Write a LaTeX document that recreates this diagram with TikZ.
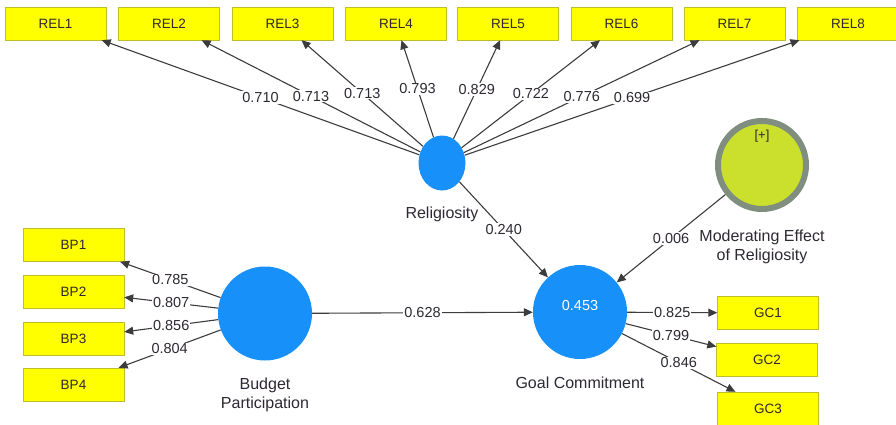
\documentclass[tikz,border=0pt]{standalone}
\usepackage{fontspec}
\setmainfont{Liberation Sans}
\usetikzlibrary{arrows.meta,shapes.geometric}
\definecolor{latblue}{RGB}{24,144,250}
\definecolor{indyellow}{RGB}{255,255,0}
\definecolor{indedge}{RGB}{190,190,40}
\definecolor{modfill}{RGB}{202,224,44}
\definecolor{modedge}{RGB}{128,142,128}
\definecolor{lines}{RGB}{60,60,60}
\definecolor{txt}{RGB}{45,40,50}

\begin{document}
\begin{tikzpicture}[x=1pt,y=-1pt,
    ind/.style={draw=indedge,fill=indyellow,minimum width=101pt,minimum height=33pt,
      inner sep=0pt,text=txt,font=\fontsize{13.5}{15}\selectfont},
    lat/.style={circle,fill=latblue,minimum size=94pt,inner sep=0pt},
    lbl/.style={text=txt,align=center,font=\fontsize{16}{19}\selectfont},
    val/.style={fill=white,inner sep=1pt,text=txt,font=\fontsize{14.5}{16}\selectfont},
    ld/.style={draw=lines,line width=1.1pt,-{Triangle[length=9pt,width=8pt]}}]
    \useasboundingbox (0,0) rectangle (896,425);
    \node[ind] (REL1) at (55.5,23.5) {REL1};
    \node[ind] (REL2) at (169,23.5) {REL2};
    \node[ind] (REL3) at (282.5,23.5) {REL3};
    \node[ind] (REL4) at (396,23.5) {REL4};
    \node[ind] (REL5) at (508,23.5) {REL5};
    \node[ind] (REL6) at (621.5,23.5) {REL6};
    \node[ind] (REL7) at (734.5,23.5) {REL7};
    \node[ind] (REL8) at (848,23.5) {REL8};
    \node[ind] (BP1) at (73.5,245) {BP1};
    \node[ind] (BP2) at (73.5,291.5) {BP2};
    \node[ind] (BP3) at (73.5,338.5) {BP3};
    \node[ind] (BP4) at (73.5,384.5) {BP4};
    \node[ind] (GC1) at (768,313) {GC1};
    \node[ind] (GC2) at (767,359.5) {GC2};
    \node[ind] (GC3) at (768,408.5) {GC3};
    \node[ellipse,fill=latblue,minimum width=47pt,minimum height=55pt,inner sep=0pt] (Rel) at (442,163) {};
    \node[lat] (Bud) at (265,313.5) {};
    \node[lat] (Goal) at (580,312) {};
    \node[circle,draw=modedge,line width=6pt,fill=modfill,minimum size=88pt,inner sep=0pt] (Mod) at (762,165) {};
    \node[text=white,font=\fontsize{14.5}{16}\selectfont] (R2) at (580,306) {0.453};
    \node[text=txt,font=\fontsize{13}{15}\selectfont] (Plus) at (762,136) {[+]};
    \node[lbl] (RelName) at (442,214) {Religiosity};
    \node[lbl] (BudName) at (265,395) {Budget\\Participation};
    \node[lbl] (GoalName) at (580,383) {Goal Commitment};
    \node[lbl] (ModName) at (762,247) {Moderating Effect\\of Religiosity};
    \draw[ld] (Rel) -- node[val] {0.710} (REL1);
    \draw[ld] (Rel) -- node[val] {0.713} (REL2);
    \draw[ld] (Rel) -- node[val] {0.713} (REL3);
    \draw[ld] (Rel) -- node[val] {0.793} (REL4);
    \draw[ld] (Rel) -- node[val] {0.829} (REL5);
    \draw[ld] (Rel) -- node[val] {0.722} (REL6);
    \draw[ld] (Rel) -- node[val] {0.776} (REL7);
    \draw[ld] (Rel) -- node[val] {0.699} (REL8);
    \draw[ld] (Bud) -- node[val] {0.785} (BP1);
    \draw[ld] (Bud) -- node[val] {0.807} (BP2);
    \draw[ld] (Bud) -- node[val] {0.856} (BP3);
    \draw[ld] (Bud) -- node[val] {0.804} (BP4);
    \draw[ld] (Goal) -- node[val] {0.825} (GC1);
    \draw[ld] (Goal) -- node[val] {0.799} (GC2);
    \draw[ld] (Goal) -- node[val] {0.846} (GC3);
    \draw[ld] (Bud) -- node[val] {0.628} (Goal);
    \draw[ld] (Rel) -- node[val] {0.240} (Goal);
    \draw[ld] (Mod) -- node[val] {0.006} (Goal);
\end{tikzpicture}
\end{document}
